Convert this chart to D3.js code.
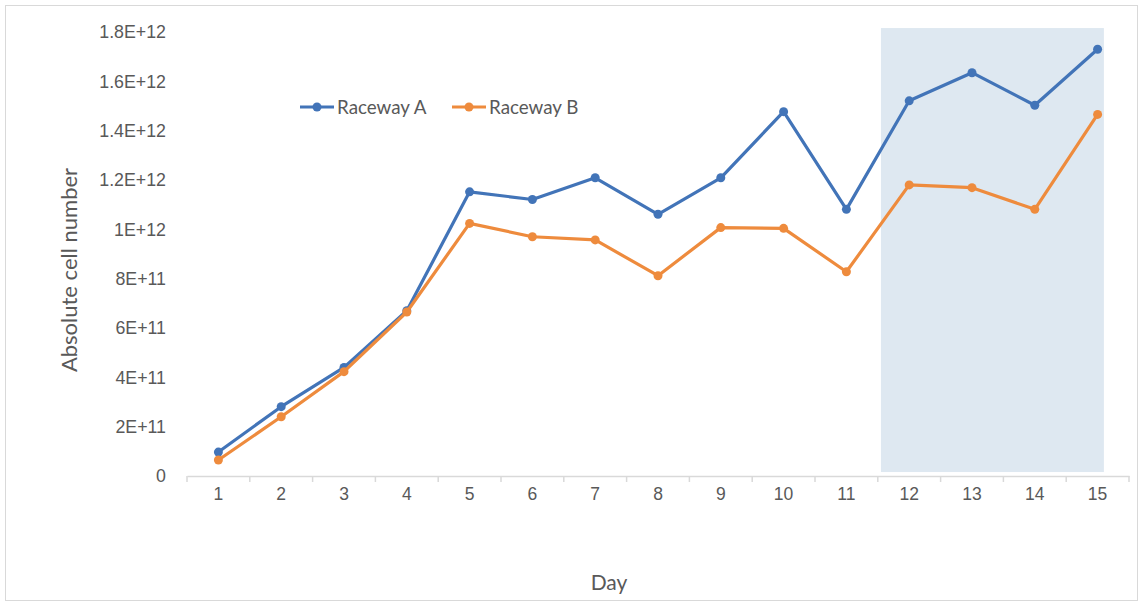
<!DOCTYPE html>
<html>
<head>
<meta charset="utf-8">
<script src="https://cdn.jsdelivr.net/npm/d3@7"></script>
<style>
  html, body { margin: 0; padding: 0; background: #fff; }
  svg { display: block; font-family: Lato, "Open Sans", sans-serif; }
</style>
</head>
<body>
<svg id="chart" width="1143" height="605"></svg>
<script>
// Days on the x axis
const days = [1, 2, 3, 4, 5, 6, 7, 8, 9, 10, 11, 12, 13, 14, 15];

// Absolute cell number per raceway
const racewayA = [9.7e10, 2.81e11, 4.40e11, 6.70e11, 1.152e12, 1.121e12, 1.209e12, 1.061e12,
                  1.209e12, 1.477e12, 1.081e12, 1.521e12, 1.635e12, 1.503e12, 1.730e12];
const racewayB = [6.5e10, 2.40e11, 4.23e11, 6.65e11, 1.024e12, 9.70e11, 9.57e11, 8.12e11,
                  1.007e12, 1.004e12, 8.28e11, 1.180e12, 1.169e12, 1.081e12, 1.466e12];

const seriesNames = ["Raceway A", "Raceway B"];
const yTicks = [0, 2e11, 4e11, 6e11, 8e11, 1e12, 1.2e12, 1.4e12, 1.6e12, 1.8e12];
const yTickLabels = ["0", "2E+11", "4E+11", "6E+11", "8E+11", "1E+12", "1.2E+12", "1.4E+12", "1.6E+12", "1.8E+12"];

// Highlighted period (days 12–15)
const highlightDays = [11.55, 15.1];
const highlightValues = [0.016e12, 1.816e12];

const colors = ["#4274b8", "#ee8b3d"];

const svg = d3.select("#chart");
const W = 1143, H = 605;

// outer frame
svg.append("rect")
  .attr("x", 5.5).attr("y", 5.5)
  .attr("width", W - 11).attr("height", H - 10)
  .attr("fill", "#fff").attr("stroke", "#d9d9d9");

const x = d3.scaleBand().domain(days).range([187, 1129]);
const xc = d => x(d) + x.bandwidth() / 2;
// continuous day position for the highlight box
const xd = d3.scaleLinear().domain([1, 15]).range([xc(1), xc(15)]);
const y = d3.scaleLinear().domain([0, 1.8e12]).range([476, 32]);

// highlight box
svg.append("rect")
  .attr("x", xd(highlightDays[0]))
  .attr("y", y(highlightValues[1]))
  .attr("width", xd(highlightDays[1]) - xd(highlightDays[0]))
  .attr("height", y(highlightValues[0]) - y(highlightValues[1]))
  .attr("fill", "#dee8f1");

// x axis
const xAxis = d3.axisBottom(x).tickSize(0).tickPadding(12);
const gx = svg.append("g").attr("transform", "translate(0,476)").call(xAxis);
gx.select(".domain").attr("stroke", "#d9d9d9").attr("stroke-width", 1.5);
gx.selectAll("text").attr("font-size", 17.5).attr("fill", "#595959");
// tick marks at category boundaries
const edges = days.map(d => x(d)).concat([x.range()[1]]);
gx.selectAll("line.edge").data(edges).enter().append("line")
  .attr("class", "edge")
  .attr("x1", d => d).attr("x2", d => d)
  .attr("y1", 0).attr("y2", 6)
  .attr("stroke", "#d9d9d9").attr("stroke-width", 1.5);

// y axis (labels only)
const yAxis = d3.axisLeft(y).tickValues(yTicks)
  .tickFormat((d, i) => yTickLabels[i]).tickSize(0).tickPadding(0);
const gy = svg.append("g").attr("transform", "translate(166,0)").call(yAxis);
gy.select(".domain").remove();
gy.selectAll("text").attr("font-size", 17.8).attr("fill", "#595959");

// axis titles
svg.append("text")
  .attr("transform", "translate(77,270) rotate(-90)")
  .attr("text-anchor", "middle")
  .attr("font-size", 22).attr("fill", "#595959")
  .text("Absolute cell number");
svg.append("text")
  .attr("x", 609).attr("y", 590)
  .attr("text-anchor", "middle")
  .attr("font-size", 21).attr("fill", "#595959")
  .text("Day");

// lines and markers
const line = d3.line().x((d, i) => xc(days[i])).y(d => y(d));
[racewayA, racewayB].forEach((vals, s) => {
  svg.append("path")
    .datum(vals)
    .attr("d", line)
    .attr("fill", "none")
    .attr("stroke", colors[s])
    .attr("stroke-width", 3.2)
    .attr("stroke-linejoin", "round");
  svg.selectAll(null).data(vals).enter().append("circle")
    .attr("cx", (d, i) => xc(days[i]))
    .attr("cy", d => y(d))
    .attr("r", 4.5)
    .attr("fill", colors[s]);
});

// legend
const legendX = [300, 452];
seriesNames.forEach((name, s) => {
  const g = svg.append("g").attr("transform", `translate(${legendX[s]},107)`);
  g.append("line").attr("x1", 0).attr("x2", 34).attr("y1", 0).attr("y2", 0)
    .attr("stroke", colors[s]).attr("stroke-width", 3.2);
  g.append("circle").attr("cx", 17).attr("cy", 0).attr("r", 4.5).attr("fill", colors[s]);
  g.append("text").attr("x", 37).attr("y", 0).attr("dy", "0.35em")
    .attr("font-size", 18.8).attr("fill", "#595959").text(name);
});
</script>
</body>
</html>
